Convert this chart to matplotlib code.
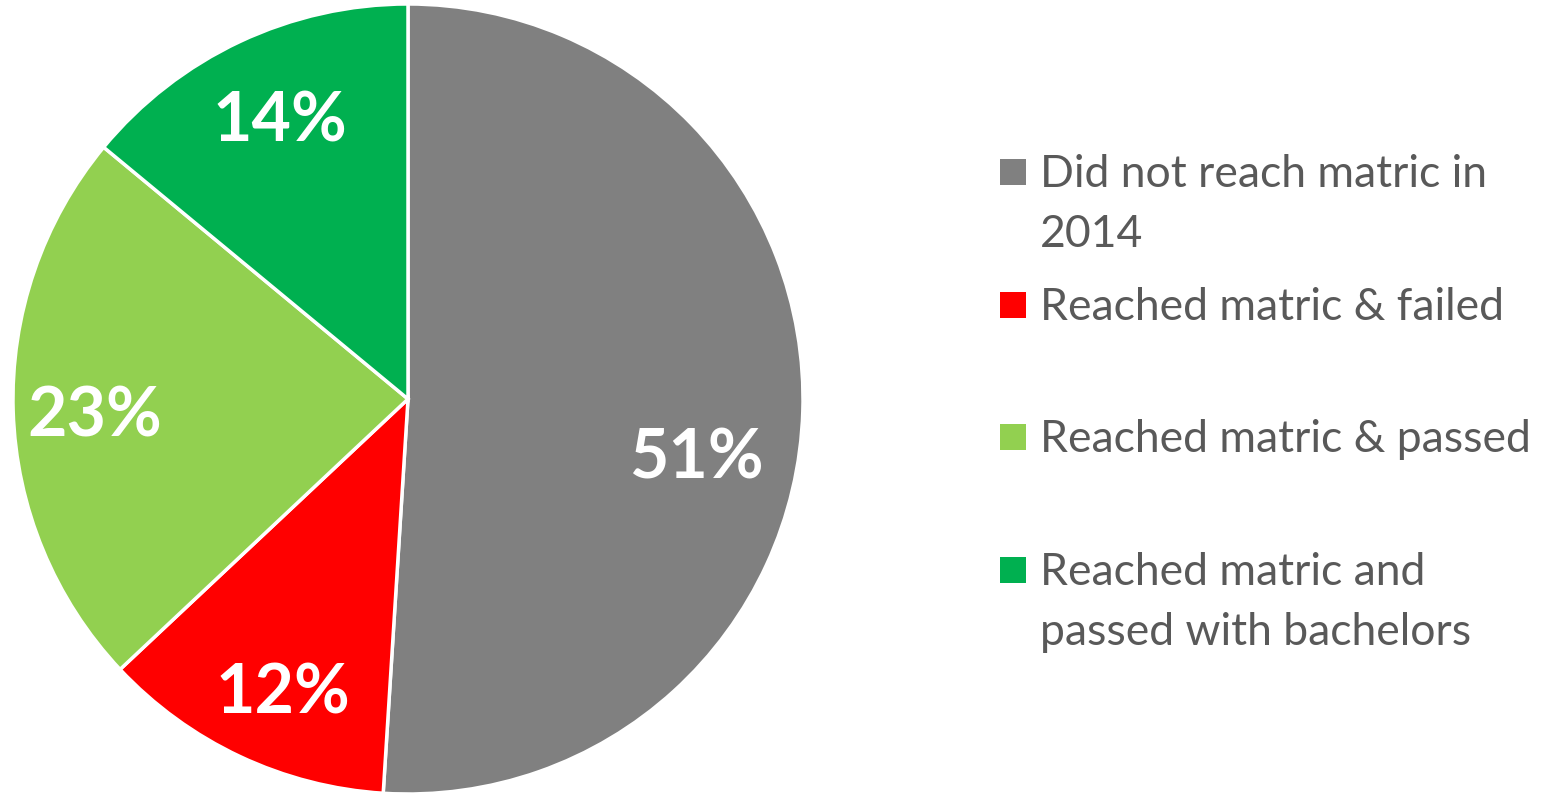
import matplotlib.pyplot as plt
from matplotlib.patches import Rectangle

labels = ["Did not reach matric in\n2014", "Reached matric & failed",
          "Reached matric & passed", "Reached matric and\npassed with bachelors"]
shares = [51, 12, 23, 14]
colors = ["#808080", "#FF0000", "#92D050", "#00B050"]
pct_text = ["51%", "12%", "23%", "14%"]

W, H = 1550, 793
fig = plt.figure(figsize=(W / 100, H / 100), dpi=100)

# pie axes: centre ~ (408, 399), radius ~ 395 px
cx, cy, r = 408, 399, 395
ax = fig.add_axes([(cx - r) / W, (H - cy - r) / H, 2 * r / W, 2 * r / H])
wedges, _ = ax.pie(shares, colors=colors, startangle=90, counterclock=False,
                   radius=1.0, wedgeprops=dict(edgecolor="white", linewidth=2.5))
ax.set_xlim(-1, 1)
ax.set_ylim(-1, 1)
ax.set_aspect("equal")
ax.axis("off")

# label positions (pixel) from the reference
label_px = [(696, 459), (283, 694), (95, 417), (280, 122)]
for (px, py), t in zip(label_px, pct_text):
    fig.text(px / W, 1 - py / H, t, ha="center", va="center", color="white",
             fontsize=49, fontweight="bold", family="Lato")

# legend drawn by hand to keep the uneven spacing of the original
leg_y = [172, 305, 437, 570]
for y, lab, c in zip(leg_y, labels, colors):
    fig.patches.append(Rectangle((1000 / W, 1 - (y + 13) / H), 26 / W, 26 / H,
                                 transform=fig.transFigure, facecolor=c,
                                 edgecolor="none"))
    fig.text(1040 / W, 1 - (y - 18) / H, lab, ha="left", va="top",
             color="#595959", fontsize=32, family="Lato", linespacing=1.57)

fig.savefig("out.png", dpi=100)
